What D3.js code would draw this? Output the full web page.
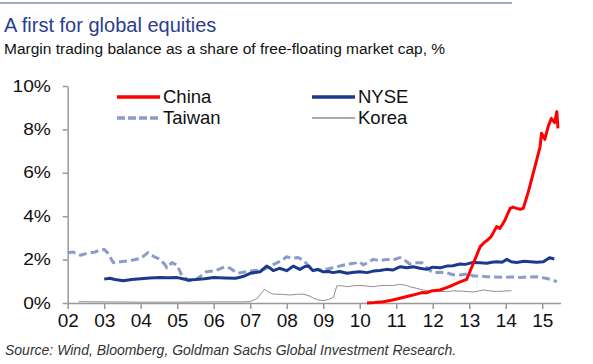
<!DOCTYPE html>
<html>
<head>
<meta charset="utf-8">
<script src="https://cdn.jsdelivr.net/npm/d3@7"></script>
<style>
  body { margin: 0; background: #fff; }
  svg { display: block; font-family: "Liberation Sans", Arial, sans-serif; }
</style>
</head>
<body>
<div id="chart"></div>
<script>
// --- data (decimal years, % of free-float market cap) ---
const years = [2002, 2003, 2004, 2005, 2006, 2007, 2008, 2009, 2010, 2011, 2012, 2013, 2014, 2015];
const yTicks = [0, 2, 4, 6, 8, 10];

const taiwanT = [2002.0, 2002.15, 2002.35, 2002.55, 2002.75, 2002.9, 2003.0, 2003.1, 2003.25, 2003.45, 2003.7, 2004.0, 2004.2, 2004.35, 2004.5, 2004.65, 2004.72, 2004.85, 2005.0, 2005.1, 2005.3, 2005.5, 2005.65, 2005.8, 2006.05, 2006.3, 2006.45, 2006.65, 2006.9, 2007.1, 2007.3, 2007.5, 2007.7, 2007.85, 2008.0, 2008.15, 2008.3, 2008.45, 2008.6, 2008.75, 2009.0, 2009.2, 2009.37, 2009.65, 2009.9, 2010.0, 2010.1, 2010.37, 2010.55, 2010.74, 2010.9, 2011.1, 2011.25, 2011.37, 2011.55, 2011.7, 2011.85, 2012.0, 2012.2, 2012.38, 2012.55, 2012.75, 2013.0, 2013.1, 2013.3, 2013.48, 2013.7, 2013.93, 2014.15, 2014.4, 2014.6, 2014.85, 2015.1, 2015.25, 2015.4];
const taiwanV = [2.32, 2.35, 2.2, 2.3, 2.35, 2.45, 2.47, 2.3, 1.86, 1.9, 1.95, 2.06, 2.32, 2.15, 2.03, 1.8, 1.62, 1.86, 1.75, 1.35, 1.03, 1.06, 1.25, 1.44, 1.49, 1.67, 1.6, 1.37, 1.44, 1.5, 1.5, 1.65, 1.83, 1.95, 2.13, 2.05, 2.1, 1.98, 1.7, 1.52, 1.52, 1.6, 1.67, 1.78, 1.85, 1.9, 1.75, 2.01, 1.95, 2.01, 1.98, 2.09, 1.95, 1.8, 1.85, 1.86, 1.6, 1.4, 1.42, 1.4, 1.3, 1.29, 1.35, 1.24, 1.25, 1.21, 1.2, 1.18, 1.2, 1.18, 1.2, 1.21, 1.14, 1.08, 0.98];

const nyseT = [2003.0, 2003.15, 2003.3, 2003.52, 2003.75, 2004.0, 2004.25, 2004.53, 2004.75, 2005.0, 2005.15, 2005.3, 2005.5, 2005.75, 2006.0, 2006.3, 2006.6, 2006.8, 2007.0, 2007.27, 2007.45, 2007.55, 2007.63, 2007.8, 2008.0, 2008.18, 2008.36, 2008.5, 2008.6, 2008.72, 2008.85, 2009.0, 2009.15, 2009.27, 2009.45, 2009.65, 2009.85, 2010.0, 2010.2, 2010.37, 2010.55, 2010.74, 2010.9, 2011.1, 2011.3, 2011.46, 2011.65, 2011.83, 2012.0, 2012.2, 2012.38, 2012.55, 2012.75, 2012.9, 2013.1, 2013.3, 2013.48, 2013.62, 2013.75, 2013.9, 2014.03, 2014.15, 2014.3, 2014.5, 2014.67, 2014.85, 2015.03, 2015.2, 2015.33];
const nyseV = [1.1, 1.14, 1.08, 1.03, 1.08, 1.12, 1.15, 1.17, 1.16, 1.17, 1.12, 1.06, 1.08, 1.12, 1.17, 1.15, 1.14, 1.22, 1.37, 1.44, 1.7, 1.6, 1.49, 1.6, 1.49, 1.7, 1.55, 1.68, 1.7, 1.49, 1.55, 1.44, 1.45, 1.4, 1.45, 1.37, 1.42, 1.44, 1.4, 1.47, 1.5, 1.55, 1.52, 1.67, 1.62, 1.67, 1.6, 1.55, 1.65, 1.62, 1.7, 1.72, 1.8, 1.78, 1.87, 1.85, 1.83, 1.88, 1.9, 1.88, 2.01, 1.9, 1.87, 1.92, 1.9, 1.88, 1.9, 2.09, 2.03];

const koreaT = [2002.3, 2003.0, 2004.0, 2005.0, 2006.0, 2006.8, 2007.0, 2007.2, 2007.3, 2007.4, 2007.5, 2007.63, 2007.85, 2008.1, 2008.3, 2008.45, 2008.63, 2008.73, 2008.85, 2009.0, 2009.15, 2009.28, 2009.37, 2009.5, 2009.65, 2009.85, 2010.0, 2010.2, 2010.37, 2010.55, 2010.74, 2010.9, 2011.1, 2011.25, 2011.37, 2011.55, 2011.73, 2011.9, 2012.1, 2012.38, 2012.55, 2012.75, 2013.1, 2013.25, 2013.38, 2013.55, 2013.75, 2013.95, 2014.16];
const koreaV = [0.06, 0.05, 0.04, 0.04, 0.05, 0.05, 0.06, 0.22, 0.45, 0.63, 0.5, 0.41, 0.4, 0.37, 0.4, 0.41, 0.32, 0.22, 0.15, 0.11, 0.16, 0.26, 0.78, 0.8, 0.75, 0.8, 0.81, 0.78, 0.75, 0.8, 0.81, 0.8, 0.86, 0.82, 0.75, 0.68, 0.6, 0.55, 0.55, 0.52, 0.56, 0.55, 0.51, 0.55, 0.6, 0.56, 0.53, 0.55, 0.57];

const chinaT = [2010.2, 2010.4, 2010.65, 2010.9, 2011.1, 2011.35, 2011.56, 2011.7, 2011.83, 2011.95, 2012.2, 2012.4, 2012.56, 2012.75, 2012.93, 2013.0, 2013.15, 2013.3, 2013.42, 2013.5, 2013.6, 2013.68, 2013.75, 2013.84, 2013.92, 2013.98, 2014.05, 2014.12, 2014.2, 2014.3, 2014.4, 2014.48, 2014.62, 2014.8, 2014.94, 2014.98, 2015.07, 2015.16, 2015.25, 2015.34, 2015.4, 2015.43];
const chinaV = [0.0, 0.02, 0.06, 0.14, 0.22, 0.32, 0.41, 0.48, 0.47, 0.55, 0.6, 0.72, 0.83, 0.97, 1.09, 1.37, 1.98, 2.6, 2.8, 2.9, 3.06, 3.3, 3.52, 3.44, 3.65, 3.82, 4.1, 4.36, 4.42, 4.36, 4.32, 4.36, 5.13, 6.28, 7.2, 7.82, 7.54, 8.12, 8.51, 8.31, 8.82, 8.05];

const width = 593, height = 364;
const svg = d3.select("#chart").append("svg")
    .attr("width", width)
    .attr("height", height);

// top rule
svg.append("line")
    .attr("x1", 0).attr("x2", 512).attr("y1", 3).attr("y2", 3)
    .attr("stroke", "#a3aac4").attr("stroke-width", 2);

svg.append("text")
    .attr("x", 4).attr("y", 32)
    .style("font-size", "20px").attr("fill", "#2b3d8f")
    .text("A first for global equities");

svg.append("text")
    .attr("x", 4).attr("y", 54)
    .style("font-size", "15.5px").attr("fill", "#111")
    .text("Margin trading balance as a share of free-floating market cap, %");

svg.append("text")
    .attr("x", 5).attr("y", 355)
    .style("font-size", "14px").style("font-style", "italic").attr("fill", "#333")
    .text("Source: Wind, Bloomberg, Goldman Sachs Global Investment Research.");

// scales
const x = d3.scaleLinear().domain([2002, 2015.5]).range([67.7, 560.5]);
const y = d3.scaleLinear().domain([0, 10]).range([303, 86]);

// axes
const xAxis = svg.append("g")
    .attr("transform", `translate(0,${y(0)})`)
    .call(d3.axisBottom(x).tickValues(years).tickSize(6).tickSizeOuter(0)
        .tickFormat(d => String(d).slice(2)));
xAxis.selectAll("text").style("font-size", "19px").attr("fill", "#111").attr("y", 11);

const yAxis = svg.append("g")
    .attr("transform", `translate(${x(2002)},0)`)
    .call(d3.axisLeft(y).tickValues(yTicks).tickSize(5).tickSizeOuter(0)
        .tickFormat(d => d + "%"));
yAxis.selectAll("text")
    .style("font-size", "16px").attr("fill", "#111")
    .attr("x", -14).attr("transform", "scale(1.2,1)");

svg.selectAll(".domain, .tick line").attr("stroke", "#999").attr("stroke-width", 1.5);

// lines
const line = d3.line().x(d => x(d[0])).y(d => y(d[1]));
const series = [
  { name: "Korea", t: koreaT, v: koreaV, color: "#8f8f8f", w: 1, dash: null },
  { name: "Taiwan", t: taiwanT, v: taiwanV, color: "#8c9cc8", w: 3, dash: "8,4" },
  { name: "NYSE", t: nyseT, v: nyseV, color: "#1b3a8e", w: 3, dash: null },
  { name: "China", t: chinaT, v: chinaV, color: "#ff0000", w: 3, dash: null }
];

svg.selectAll(".series")
  .data(series)
  .join("path")
    .attr("class", "series")
    .attr("fill", "none")
    .attr("stroke", d => d.color)
    .attr("stroke-width", d => d.w)
    .attr("stroke-dasharray", d => d.dash)
    .attr("stroke-linejoin", "round")
    .attr("d", d => line(d.t.map((t, i) => [t, d.v[i]])));

// legend
const legendPos = { China: [117, 97], Taiwan: [117, 118], NYSE: [312, 97], Korea: [312, 118] };
const legend = svg.selectAll(".legend")
  .data(series)
  .join("g")
    .attr("class", "legend")
    .attr("transform", d => `translate(${legendPos[d.name][0]},${legendPos[d.name][1]})`);
legend.append("line")
    .attr("x1", 0).attr("x2", 43)
    .attr("stroke", d => d.color)
    .attr("stroke-width", d => d.w === 1 ? 1.5 : 3.5)
    .attr("stroke-dasharray", d => d.dash ? "8,3" : null);
legend.append("text")
    .attr("x", 46).attr("dy", "0.35em")
    .style("font-size", "18.5px").attr("fill", "#111")
    .text(d => d.name);
</script>
</body>
</html>
